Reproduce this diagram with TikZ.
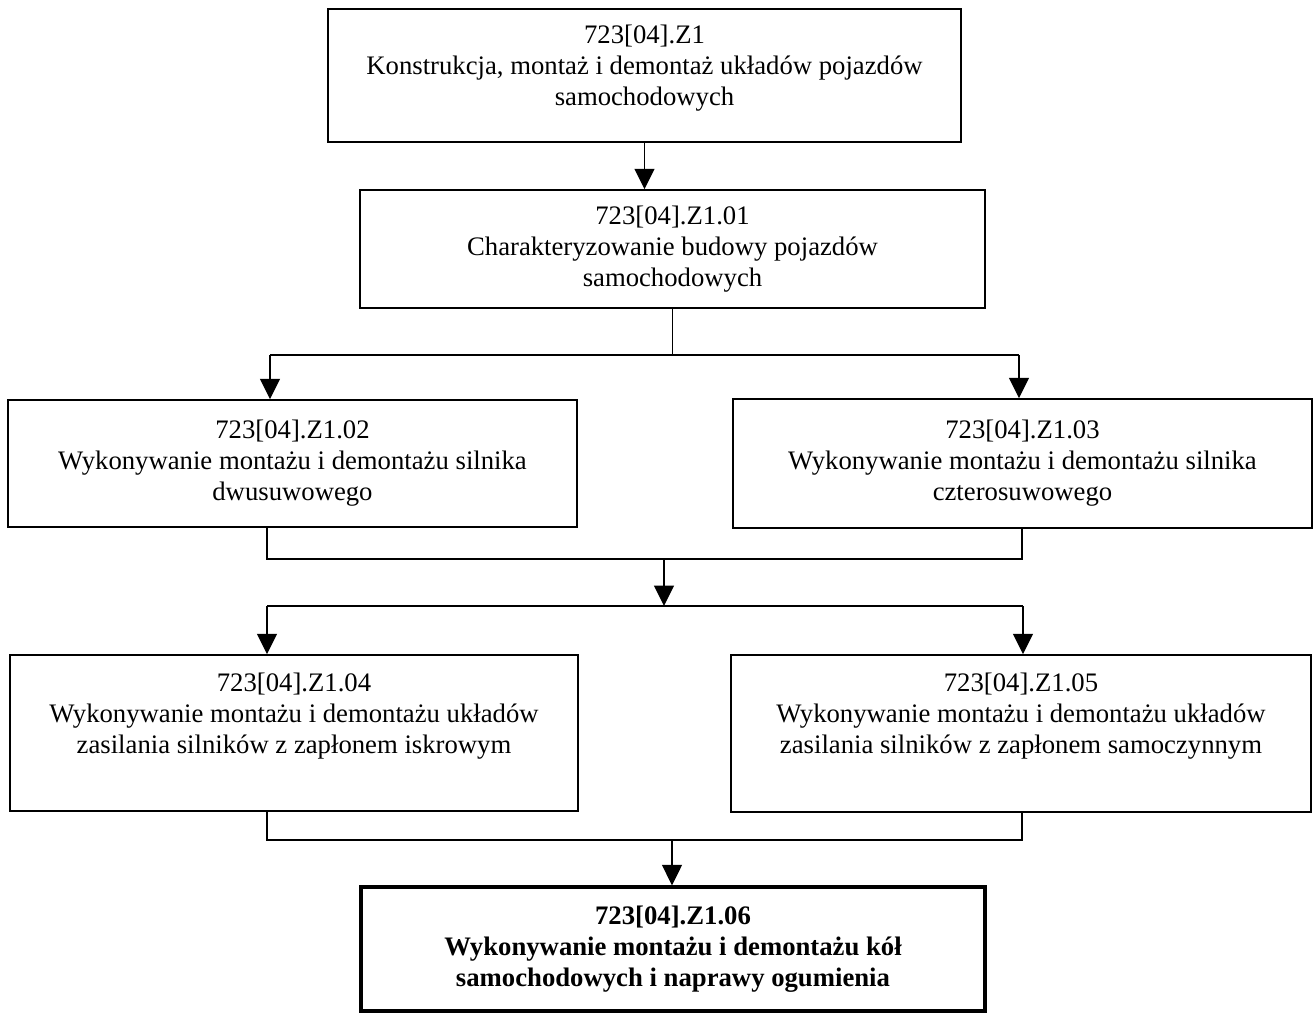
\documentclass[tikz,border=0pt]{standalone}
\usepackage{fontspec}
\setmainfont{Liberation Serif}
\usepackage{tikz}
\usetikzlibrary{arrows.meta}

\begin{document}
\begin{tikzpicture}[x=0.02cm, y=-0.02cm, >={Triangle[length=0.41cm, width=0.4cm]},
		module/.style={draw, line width=.85pt, align=center, inner sep=0pt,
			font=\fontsize{15.2}{17.6}\selectfont},
		link/.style={line width=.85pt}]
			\useasboundingbox (0,0) rectangle (1316,1014);

			% unit at the top
			\node[module, minimum width=633*0.02cm, minimum height=133*0.02cm, text depth=0.4cm] (z1) at (644.5,75.5)
				{723[04].Z1\\Konstrukcja, montaż i demontaż układów pojazdów\\samochodowych};
			\node[module, minimum width=625*0.02cm, minimum height=118*0.02cm] (z101) at (672.5,249)
				{723[04].Z1.01\\Charakteryzowanie budowy pojazdów\\samochodowych};

			% engines
			\node[module, minimum width=569*0.02cm, minimum height=127*0.02cm] (z102) at (292.5,463.5)
				{723[04].Z1.02\\Wykonywanie montażu i demontażu silnika\\dwusuwowego};
			\node[module, minimum width=579*0.02cm, minimum height=129*0.02cm] (z103) at (1022.5,463.5)
				{723[04].Z1.03\\Wykonywanie montażu i demontażu silnika\\czterosuwowego};

			% fuel systems
			\node[module, minimum width=568*0.02cm, minimum height=156*0.02cm, text depth=0.8cm] (z104) at (294,733)
				{723[04].Z1.04\\Wykonywanie montażu i demontażu układów\\zasilania silników z zapłonem iskrowym};
			\node[module, minimum width=580*0.02cm, minimum height=157*0.02cm, text depth=0.8cm] (z105) at (1021,733.5)
				{723[04].Z1.05\\Wykonywanie montażu i demontażu układów\\zasilania silników z zapłonem samoczynnym};

			% wheels
			\node[module, line width=1.9pt, font=\fontsize{15.2}{17.6}\selectfont\bfseries,
				minimum width=624*0.02cm, minimum height=124*0.02cm] (z106) at (673,949)
				{723[04].Z1.06\\Wykonywanie montażu i demontażu kół\\samochodowych i naprawy ogumienia};

			% forks
			\coordinate (l1) at (270,355);
			\coordinate (r1) at (1019,355);
			\coordinate (l2) at (267,559);
			\coordinate (r2) at (1022,559);
			\coordinate (m2) at (664,559);
			\coordinate (l3) at (267,606);
			\coordinate (r3) at (1023,606);
			\coordinate (l4) at (267,840);
			\coordinate (r4) at (1022,840);
			\coordinate (m4) at (672,840);

			\draw[->, link] (z1.south) -- (z1.south |- z101.north);

			\draw[link] (z101.south) -- (z101.south |- l1);
			\draw[link] (l1) -- (r1);
			\draw[->, link] (l1) -- (l1 |- z102.north);
			\draw[->, link] (r1) -- (r1 |- z103.north);

			\draw[link] (l2 |- z102.south) -- (l2) -- (r2) -- (r2 |- z103.south);
			\draw[->, link] (m2) -- (m2 |- l3);

			\draw[link] (l3) -- (r3);
			\draw[->, link] (l3) -- (l3 |- z104.north);
			\draw[->, link] (r3) -- (r3 |- z105.north);

			\draw[link] (l4 |- z104.south) -- (l4) -- (r4) -- (r4 |- z105.south);
			\draw[->, link] (m4) -- (m4 |- z106.north);

		\end{tikzpicture}
\end{document}
